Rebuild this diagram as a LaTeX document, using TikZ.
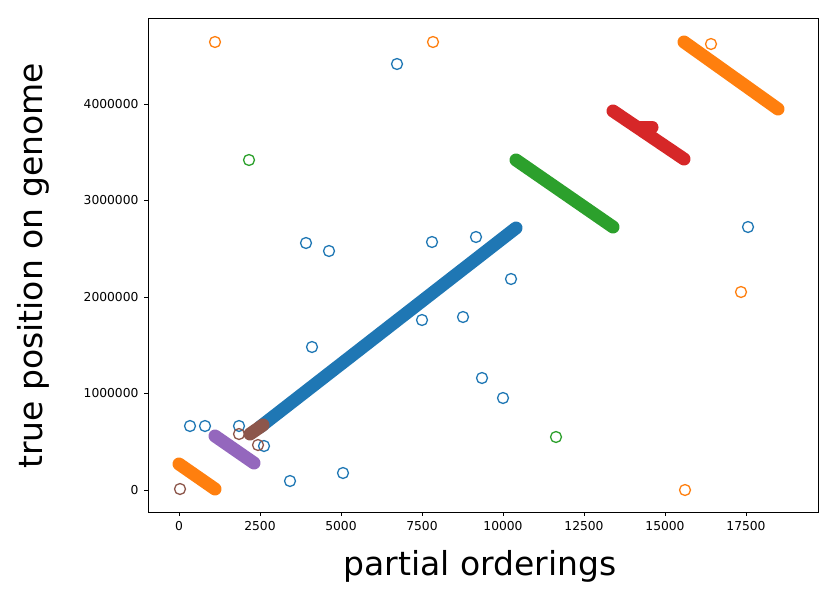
\documentclass[tikz,border=0pt]{standalone}
\usepackage{fontspec}
\setmainfont{DejaVu Sans}
\definecolor{cb}{HTML}{1F77B4}
\definecolor{co}{HTML}{FF7F0E}
\definecolor{cg}{HTML}{2CA02C}
\definecolor{cr}{HTML}{D62728}
\definecolor{cp}{HTML}{9467BD}
\definecolor{cn}{HTML}{8C564B}
\begin{document}
\begin{tikzpicture}[x=1pt,y=-1pt,
  seg/.style={line width=13pt,line cap=round},
  pt/.style={draw=#1,line width=1.3pt,circle,minimum size=11pt,inner sep=0pt},
  tick/.style={line width=0.8pt},
  tl/.style={font=\fontsize{12.3}{13}\selectfont}]
\useasboundingbox (0,0) rectangle (830,597);
% segments
\draw[seg,co] (179,464) -- (215,489);
\draw[seg,cp] (215,436) -- (254,463);
\draw[seg,cb] (260,427) -- (516,228);
\draw[seg,cn] (250,434) -- (263,425);
\draw[seg,cg] (516,160) -- (613,227);
\draw[seg,cr] (613,111) -- (684,159);
\draw[cr,line width=13pt,line cap=round] (640,127) -- (652,127);
\draw[seg,co] (684,42) -- (778,109);
% hollow points
\foreach \x/\y [count=\i] in {190/426,205/426,239/426,264/446,290/481,343/473,312/347,306/243,329/251,397/64,432/242,422/320,463/317,476/237,482/378,503/398,511/279,748/227}
  \node[pt=cb] (b\i) at (\x,\y) {};
\foreach \x/\y [count=\i] in {215/42,433/42,711/44,741/292,685/490}
  \node[pt=co] (o\i) at (\x,\y) {};
\foreach \x/\y [count=\i] in {249/160,556/437}
  \node[pt=cg] (g\i) at (\x,\y) {};
\foreach \x/\y [count=\i] in {180/489,239/434,258/445}
  \node[pt=cn] (n\i) at (\x,\y) {};
% frame
\draw[line width=0.8pt] (148,18) rectangle (818,512);
% x ticks
\foreach \v/\x in {0/179,2500/260,5000/341,7500/422,10000/503,12500/584,15000/665,17500/746}{
  \draw[tick] (\x,512) -- (\x,516);
  \node[tl,anchor=north] (xt\v) at (\x,518) {\v};}
% y ticks
\foreach \v/\y in {0/490,1000000/393,2000000/297,3000000/200,4000000/104}{
  \draw[tick] (148,\y) -- (144,\y);
  \node[tl,anchor=east] (yt\v) at (142,\y) {\v};}
\node[font=\fontsize{33}{36}\selectfont] (xl) at (480,566) {partial orderings};
\node[font=\fontsize{33}{36}\selectfont,rotate=90] (yl) at (33,266) {true position on genome};
\end{tikzpicture}
\end{document}
